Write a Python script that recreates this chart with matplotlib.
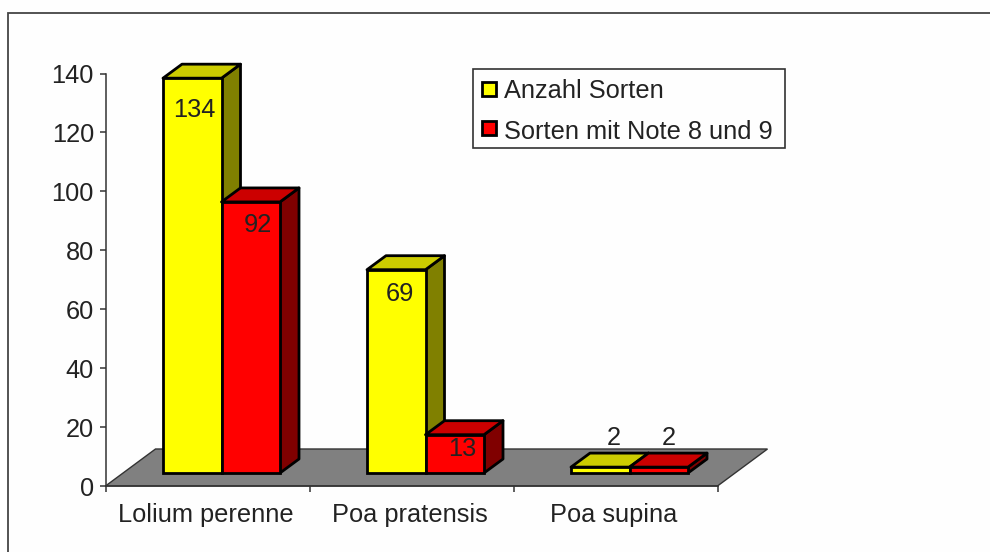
import matplotlib
matplotlib.use('Agg')
import matplotlib.pyplot as plt
from matplotlib.patches import Polygon, Rectangle

categories = ['Lolium perenne', 'Poa pratensis', 'Poa supina']
anzahl_sorten = [134, 69, 2]
note_8_9 = [92, 13, 2]
series_names = ['Anzahl Sorten', 'Sorten mit Note 8 und 9']
y_ticks = [0, 20, 40, 60, 80, 100, 120, 140]

W, H = 990, 552
plt.rcParams['font.family'] = ['Liberation Sans', 'DejaVu Sans']
FS = 18.3
TXT = '#222222'

fig = plt.figure(figsize=(W / 100, H / 100), dpi=100, facecolor='#fefefe')

# plot area in pixels of the picture
left, right, top, bottom = 105.5, 717.5, 73.5, 486
ax = fig.add_axes([left / W, 1 - bottom / H, (right - left) / W, (bottom - top) / H])
ax.set_xlim(0, 3)
ax.set_ylim(0, 140)
ax.patch.set_visible(False)
px_x = 3 / (right - left)     # one pixel in x units
px_y = 140 / (bottom - top)   # one pixel in y units

# outer frame, runs off the picture on the right and at the bottom
fig.add_artist(Rectangle((8 / W, -0.1), 1.1, 1.1 - 13 / H, transform=fig.transFigure,
                         fill=False, ec='#444444', lw=1.3))

# grey floor
floor_dx, floor_dy = 50 * px_x, 37 * px_y
ax.add_patch(Polygon([(0, 0), (3, 0), (3 + floor_dx, floor_dy), (floor_dx, floor_dy)],
                     closed=True, fc='#808080', ec='#333333', lw=1.0, clip_on=False, zorder=1))

bar_w = 58.5 * px_x
base = 13 * px_y
shift = 14 * px_x
depth_x, depth_y = 19 * px_x, 14 * px_y


def draw_bar(x0, val, front, roof, side):
    x1 = x0 + bar_w
    y0 = base
    y1 = base + val
    ax.add_patch(Polygon([(x1, y0), (x1 + depth_x, y0 + depth_y), (x1 + depth_x, y1 + depth_y), (x1, y1)],
                         closed=True, fc=side, ec='black', lw=2, clip_on=False, zorder=3, joinstyle='round'))
    ax.add_patch(Polygon([(x0, y1), (x1, y1), (x1 + depth_x, y1 + depth_y), (x0 + depth_x, y1 + depth_y)],
                         closed=True, fc=roof, ec='black', lw=2, clip_on=False, zorder=3, joinstyle='round'))
    ax.add_patch(Rectangle((x0, y0), bar_w, val, fc=front, ec='black', lw=2, clip_on=False, zorder=3))


# offsets of the value labels from the top of the bar front, in pixels
offs_a = [(2, -32), (4, -24), (13, 29)]
offs_b = [(7, -23), (7, -14), (10, 29)]

for i in range(len(categories)):
    c = i + 0.5 + shift
    draw_bar(c - bar_w, anzahl_sorten[i], '#ffff00', '#cccc00', '#808000')
    draw_bar(c, note_8_9[i], '#ff0000', '#cc0000', '#800000')
    ax.annotate(str(anzahl_sorten[i]), (c - bar_w / 2, base + anzahl_sorten[i]),
                xytext=(offs_a[i][0] * 0.72, offs_a[i][1] * 0.72), textcoords='offset points',
                ha='center', va='center', color=TXT, fontsize=FS, zorder=5, annotation_clip=False)
    ax.annotate(str(note_8_9[i]), (c + bar_w / 2, base + note_8_9[i]),
                xytext=(offs_b[i][0] * 0.72, offs_b[i][1] * 0.72), textcoords='offset points',
                ha='center', va='center', color=TXT, fontsize=FS, zorder=5, annotation_clip=False)

# axes
for s in ['top', 'right']:
    ax.spines[s].set_visible(False)
for s in ['left', 'bottom']:
    ax.spines[s].set_color('#333333')
    ax.spines[s].set_linewidth(1.1)
    ax.spines[s].set_zorder(2)
ax.set_yticks(y_ticks)
ax.tick_params(axis='y', length=4.5, width=1.1, color='#333333', pad=3.8, labelcolor=TXT, labelsize=FS)
ax.set_xticks([0, 1, 2, 3])
ax.set_xticklabels([])
ax.tick_params(axis='x', which='major', length=4.5, width=1.1, color='#333333')
ax.set_xticks([0.49, 1.49, 2.49], minor=True)
ax.set_xticklabels(categories, minor=True)
ax.tick_params(axis='x', which='minor', length=0, pad=12.5, labelcolor=TXT, labelsize=FS)

# legend, placed by hand in picture pixels so the box matches


def fx(p):
    return p / W


def fy(p):
    return 1 - p / H


fig.add_artist(Rectangle((fx(472.5), fy(148)), 312.5 / W, 79 / H, transform=fig.transFigure,
                         fc='#fefefe', ec='#333333', lw=1.2, zorder=6))
swatch_top = [82, 121]
text_mid = [91, 132]
colors = ['#ffff00', '#ff0000']
for name, sw, tm, col in zip(series_names, swatch_top, text_mid, colors):
    fig.add_artist(Rectangle((fx(482), fy(sw + 14)), 14 / W, 14 / H, transform=fig.transFigure,
                             fc=col, ec='black', lw=2, zorder=7))
    fig.text(fx(503.5), fy(tm), name, ha='left', va='center', color=TXT, fontsize=FS, zorder=7)

fig.savefig('out.png', dpi=100, facecolor=fig.get_facecolor())
